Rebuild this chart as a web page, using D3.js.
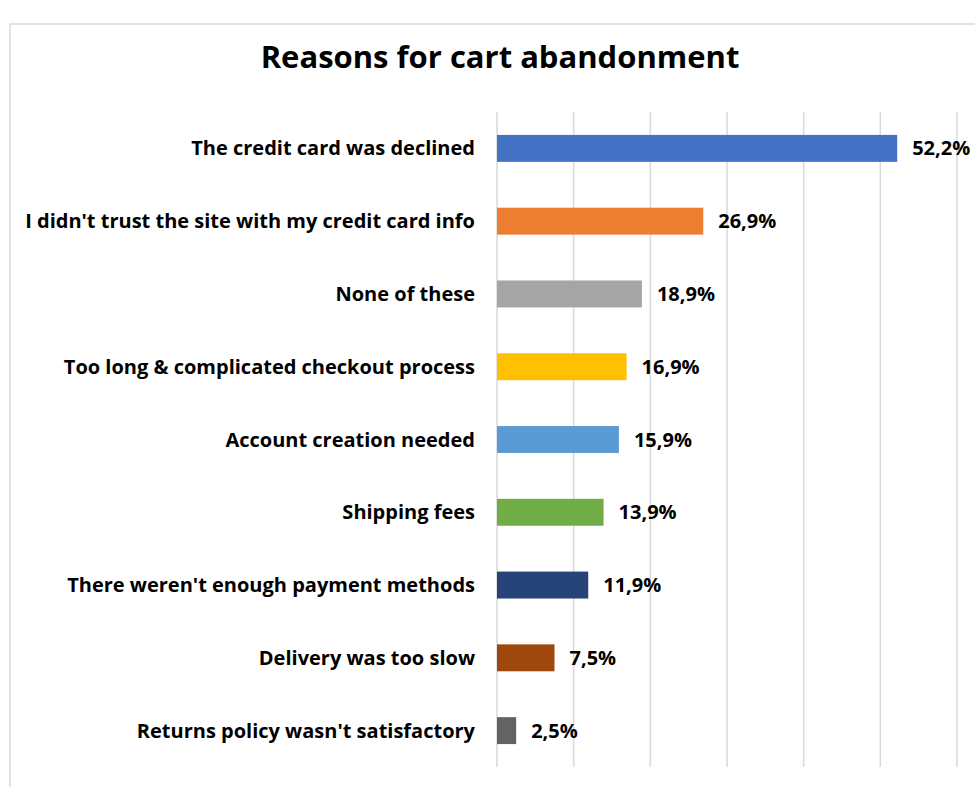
<!DOCTYPE html>
<html>
<head>
<meta charset="utf-8">
<script src="https://cdn.jsdelivr.net/npm/d3@7"></script>
<style>
  body { margin: 0; background: #fff; }
  svg { display: block; font-family: "Open Sans", sans-serif; }
</style>
</head>
<body>
<div id="chart"></div>
<script>
// data
const reasons = [
    "The credit card was declined",
    "I didn't trust the site with my credit card info",
    "None of these",
    "Too long & complicated checkout process",
    "Account creation needed",
    "Shipping fees",
    "There weren't enough payment methods",
    "Delivery was too slow",
    "Returns policy wasn't satisfactory"
];
const shares = [52.2, 26.9, 18.9, 16.9, 15.9, 13.9, 11.9, 7.5, 2.5];
const barColors = ["#4472C4", "#ED7D31", "#A5A5A5", "#FFC000", "#5B9BD5", "#70AD47", "#264478", "#9E480E", "#636363"];
const gridTicks = [0, 10, 20, 30, 40, 50, 60];

const width = 975, height = 787;
const margin = {top: 112, right: 17, bottom: 20, left: 497};

const svg = d3.select("#chart").append("svg")
    .attr("width", width)
    .attr("height", height);

// chart area frame (cut off at right and bottom like the screenshot)
svg.append("rect")
    .attr("x", 10).attr("y", 24)
    .attr("width", 1000).attr("height", 800)
    .attr("fill", "none")
    .attr("stroke", "#d9d9d9")
    .attr("stroke-width", 1.5);

svg.append("text")
    .attr("x", 500).attr("y", 68)
    .attr("text-anchor", "middle")
    .attr("font-size", 31)
    .attr("font-weight", "bold")
    .attr("fill", "#000")
    .text("Reasons for cart abandonment");

const x = d3.scaleLinear()
    .domain([0, 60])
    .range([margin.left, margin.left + 460]);

const y = d3.scaleBand()
    .domain(reasons)
    .range([margin.top, height - margin.bottom]);

const barH = y.bandwidth() * 0.37;

// vertical gridlines
svg.append("g")
    .selectAll("line")
    .data(gridTicks)
    .enter()
    .append("line")
    .attr("x1", d => x(d)).attr("x2", d => x(d))
    .attr("y1", margin.top).attr("y2", height - margin.bottom)
    .attr("stroke", "#d9d9d9")
    .attr("stroke-width", 1.5);

const rows = svg.append("g")
    .selectAll("g")
    .data(reasons)
    .enter()
    .append("g");

rows.append("rect")
    .attr("x", x(0))
    .attr("y", d => y(d) + (y.bandwidth() - barH) / 2)
    .attr("width", (d, i) => x(shares[i]) - x(0))
    .attr("height", barH)
    .attr("fill", (d, i) => barColors[i]);

rows.append("text")
    .attr("x", margin.left - 22)
    .attr("y", d => y(d) + y.bandwidth() / 2)
    .attr("dy", "0.35em")
    .attr("text-anchor", "end")
    .attr("font-size", 20)
    .attr("font-weight", "bold")
    .attr("fill", "#000")
    .text(d => d);

rows.append("text")
    .attr("x", (d, i) => x(shares[i]) + 15)
    .attr("y", d => y(d) + y.bandwidth() / 2)
    .attr("dy", "0.35em")
    .attr("font-size", 20)
    .attr("font-weight", "bold")
    .attr("fill", "#000")
    .text((d, i) => shares[i].toFixed(1).replace(".", ",") + "%");
</script>
</body>
</html>
